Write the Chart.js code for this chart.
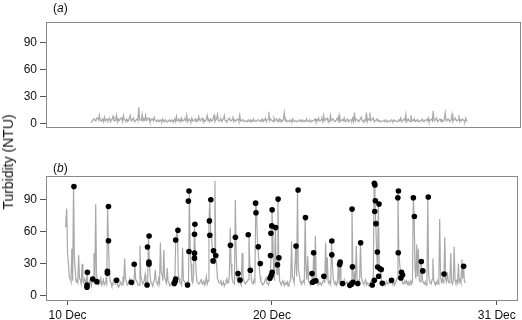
<!DOCTYPE html>
<html><head><meta charset="utf-8">
<script src="https://cdn.jsdelivr.net/npm/chart.js@4.4.1/dist/chart.umd.min.js"></script>
<style>
html,body{margin:0;padding:0;background:#fff;}
body{width:522px;height:320px;position:relative;overflow:hidden;font-family:"Liberation Sans",Arial,Helvetica,sans-serif;color:#111;}
canvas{position:absolute;left:0;}
#ytitle{position:absolute;left:8px;top:162px;transform:translate(-50%,-50%) rotate(-90deg);font-size:14px;line-height:16px;white-space:nowrap;}
.plab{position:absolute;left:53px;font-size:12px;line-height:14px;}
</style>
</head><body>
<canvas id="ca" width="522" height="160" style="top:0"></canvas>
<canvas id="cb" width="522" height="160" style="top:160px"></canvas>
<div id="ytitle">Turbidity (NTU)</div>
<div class="plab" style="top:1px">(<i>a</i>)</div>
<div class="plab" style="top:161px">(<i>b</i>)</div>
<script>
// time grid: days relative to 10 Dec 00:00, hourly samples
const startDay = -0.125;
const stepDays = 1/24;
const topStartIndex = 30;

// panel (a) turbidity (NTU), hourly
const turbidityA = [
1,2,3,5,5,3,4,6,6,4,9,3,3,5,5,2,7,3,4,5,
3,5,6,2,4,5,8,3,3,4,9,2,5,3,3,6,6,2,9,4,
4,3,5,2,3,6,9,3,4,5,6,2,3,4,5,3,18,4,4,3,
10,3,5,4,9,3,4,6,6,2,3,5,5,3,7,4,3,2,4,3,
2,4,3,2,5,3,2,4,3,2,2,3,4,2,3,4,2,3,5,2,
8,3,3,5,4,2,6,3,3,4,5,3,9,2,4,5,3,2,6,3,
3,4,5,2,4,3,8,4,3,5,6,3,4,2,3,5,9,3,4,2,
5,3,3,6,9,2,4,5,10,3,3,4,5,2,4,5,9,3,3,2,
4,5,6,3,3,4,8,2,4,3,3,5,5,2,9,3,3,4,4,2,
2,3,3,2,4,3,2,4,3,2,5,3,3,2,2,4,4,3,3,2,
5,3,3,4,6,2,4,5,13,3,5,4,3,2,6,3,4,5,3,2,
5,3,4,2,3,5,12,3,4,2,3,3,2,4,3,2,5,3,2,3,
3,2,2,3,4,2,3,4,2,3,3,2,5,3,3,2,4,3,2,3,
3,4,5,2,4,3,6,3,3,4,5,2,9,3,4,5,6,3,3,2,
9,3,4,5,5,2,3,4,6,3,9,2,3,4,4,3,6,2,3,4,
5,2,3,4,4,3,6,2,12,3,5,4,3,2,4,5,7,3,3,2,
4,3,12,2,5,4,12,3,4,5,6,2,3,4,5,3,4,2,3,2,
2,3,3,2,4,3,2,3,3,2,2,4,3,2,4,3,3,2,2,3,
4,3,6,2,3,4,5,3,10,2,4,5,3,2,9,3,4,3,5,2,
3,4,4,2,2,3,3,5,5,2,3,4,4,3,6,2,3,4,5,3,
14,3,4,5,6,2,3,4,5,3,4,2,3,5,12,3,4,5,5,2,
3,4,10,2,4,5,6,3,3,4,9,2,4,3,5,4,3,2,6,3,
3
];

// panel (b) turbidity (NTU), hourly
const turbidityB = [
65,70,82,40,30,18,16,13,44,14,103,35,25,13,14,12,38,16,15,11,
30,13,12,16,14,11,22,8,10,14,12,9,16,13,40,12,86,20,13,10,
11,14,17,10,12,15,10,12,14,11,84,50,23,14,12,9,10,15,13,11,
15,12,11,8,9,13,12,10,18,12,35,16,14,10,11,13,16,12,13,10,
11,13,30,15,14,12,10,10,47,18,15,11,12,14,20,11,10,12,56,32,
18,12,11,9,13,15,24,13,12,10,16,12,50,22,20,14,43,17,15,12,
26,13,12,9,10,12,14,11,12,15,52,58,62,20,16,12,12,10,45,14,
14,12,11,9,13,12,98,42,30,14,12,20,67,38,22,13,13,11,11,14,
15,11,12,14,10,12,18,11,14,70,90,60,56,45,42,30,108,35,30,16,
14,12,12,15,10,11,13,9,11,14,16,12,12,20,64,30,18,13,12,11,
90,40,16,13,21,14,12,10,40,18,14,12,11,13,13,15,57,30,24,14,
12,11,15,13,88,78,50,40,30,18,13,12,10,11,12,15,18,12,11,10,
14,16,38,81,58,22,14,64,29,20,91,35,14,12,10,13,14,11,10,12,
11,13,9,12,13,15,51,18,16,12,12,47,18,99,25,20,14,12,11,13,
14,12,73,25,15,37,14,12,10,13,21,13,40,14,56,16,13,11,13,11,
12,10,11,14,18,12,50,15,36,13,12,14,11,51,30,16,12,11,13,10,
12,30,12,32,14,11,12,13,15,10,12,14,10,11,13,9,12,81,27,14,
20,12,47,15,11,13,16,50,18,14,12,11,13,15,10,12,11,9,12,13,
14,10,14,106,89,66,40,25,86,25,24,18,12,10,11,13,10,12,13,11,
11,13,12,15,12,11,13,10,12,14,16,98,40,30,22,17,13,11,12,14,
12,14,11,13,10,12,14,11,13,92,74,25,16,48,18,44,15,13,32,23,
14,12,11,13,10,12,93,20,14,12,11,15,35,14,12,10,13,11,14,12,
72,18,13,16,12,20,55,16,13,22,14,12,15,40,13,11,14,46,15,12,
14,12,30,13,15,12,34,16,28,14,12
];

// marked samples in panel (b)
const dotDays = [
0.31,0.97,0.95,0.95,1.23,1.43,2.0,2.0,1.95,1.95,
2.40,3.12,3.26,3.91,3.99,3.98,3.98,3.89,5.29,5.40,
5.22,5.27,5.29,5.94,5.91,5.94,5.87,6.23,6.21,6.21,
6.21,7.01,6.94,6.96,7.14,7.25,7.12,7.97,8.21,8.34,
8.44,8.84,8.94,9.20,9.22,9.33,9.43,10.01,9.99,9.95,
9.93,9.90,9.96,10.01,10.30,10.18,10.34,10.27,11.28,11.18,
11.64,12.04,11.96,11.99,12.07,12.15,12.54,12.93,12.93,13.34,
13.31,13.45,13.92,13.94,13.81,13.89,13.96,14.2,14.34,15.01,
15.04,15.06,15.03,15.09,15.24,15.16,15.17,15.27,15.35,15.22,
15.01,14.91,15.40,15.85,16.19,16.16,16.18,16.34,16.39,16.31,
16.92,16.97,17.65,17.31,17.38,18.42,19.38
];
const dotValues = [
102.7,22,10,8,15.7,13.2,83.8,51.7,23,21,
14.5,12.6,29.6,45.7,56.1,31.5,29.6,10,52.3,61.5,
11.4,13.5,15.7,98.4,88.9,41.6,10,67.2,57.7,40,
35.3,90.2,70.3,56.8,42.2,37.8,32.7,47.3,54.9,20.8,
14.8,57.3,23.9,87,77.9,46,30.3,80.7,65.6,58.6,
37.8,16.4,18.9,22,90.8,64,35.6,29,99.3,46.6,
73.4,40.3,20.8,12.6,13.5,14,18.3,51.4,38.4,31.5,
29.3,11.4,81.4,27.1,9.7,10.7,12.6,11.4,49.8,105.6,
104,89.2,79.1,67.7,86.1,41,27,25.5,24.6,18.3,
14.5,10,11.6,14.5,98.4,92,40.3,22,19.5,16.7,
92,74.4,92.7,32.2,23.3,20.4,27.7
];

const xTickDays = [0, 10, 21];
const xTickLabels = ['10 Dec', '20 Dec', '31 Dec'];
const yTicks = [0, 30, 60, 90];

const X_MIN = -1.056, X_MAX = 22.04, Y_MIN = -5, Y_MAX = 112.5;
const LINE_COLOR = '#a9a9a9';
const FONT = {family: '"Liberation Sans", Arial, Helvetica, sans-serif', size: 12};

const boxPlugin = {
  id: 'box',
  afterDraw(chart) {
    const a = chart.chartArea, c = chart.ctx;
    c.save();
    c.strokeStyle = '#8a8a8a';
    c.lineWidth = 1;
    c.strokeRect(Math.round(a.left) + 0.5, Math.round(a.top) + 0.5,
                 Math.round(a.right) - Math.round(a.left) - 1, Math.round(a.bottom) - Math.round(a.top) - 1);
    c.restore();
  }
};

function options(showX, padTop, padBottom) {
  return {
    responsive: false, animation: false, devicePixelRatio: 1,
    layout: {padding: {left: 0, right: 1.5, top: padTop, bottom: padBottom}},
    plugins: {legend: {display: false}, tooltip: {enabled: false}},
    scales: {
      x: {
        type: 'linear', min: X_MIN, max: X_MAX, display: showX,
        afterBuildTicks: s => { s.ticks = xTickDays.map(v => ({value: v})); },
        ticks: {callback: (v, i) => xTickLabels[i], font: FONT, color: '#111', padding: 3, maxRotation: 0, autoSkip: false},
        grid: {display: true, drawOnChartArea: false, drawTicks: true, tickLength: 4, color: '#555'},
        border: {display: false},
        afterFit: s => { s.height = 19; }
      },
      y: {
        min: Y_MIN, max: Y_MAX,
        afterBuildTicks: s => { s.ticks = yTicks.map(v => ({value: v})); },
        ticks: {font: FONT, color: '#111', padding: 3},
        grid: {display: true, drawOnChartArea: false, drawTicks: true, tickLength: 6, color: '#555'},
        border: {display: false},
        afterFit: s => { s.width = 46; }
      }
    }
  };
}

const lineA = turbidityA.map((v, i) => ({x: startDay + (topStartIndex + i) * stepDays, y: v}));
const lineB = turbidityB.map((v, i) => ({x: startDay + i * stepDays, y: v}));
const dots = dotDays.map((d, i) => ({x: d, y: dotValues[i]}));

new Chart(document.getElementById('ca'), {
  type: 'line',
  data: {datasets: [{data: lineA, borderColor: LINE_COLOR, borderWidth: 1.2, pointRadius: 0, tension: 0}]},
  options: options(false, 22, 13),
  plugins: [boxPlugin]
});

new Chart(document.getElementById('cb'), {
  type: 'line',
  data: {datasets: [
    {type: 'scatter', data: dots, order: 0, backgroundColor: '#000', borderWidth: 0, pointRadius: 2.8, showLine: false},
    {data: lineB, order: 1, borderColor: LINE_COLOR, borderWidth: 1.2, pointRadius: 0, tension: 0}
  ]},
  options: options(true, 16, 0),
  plugins: [boxPlugin]
});
</script>
</body></html>
